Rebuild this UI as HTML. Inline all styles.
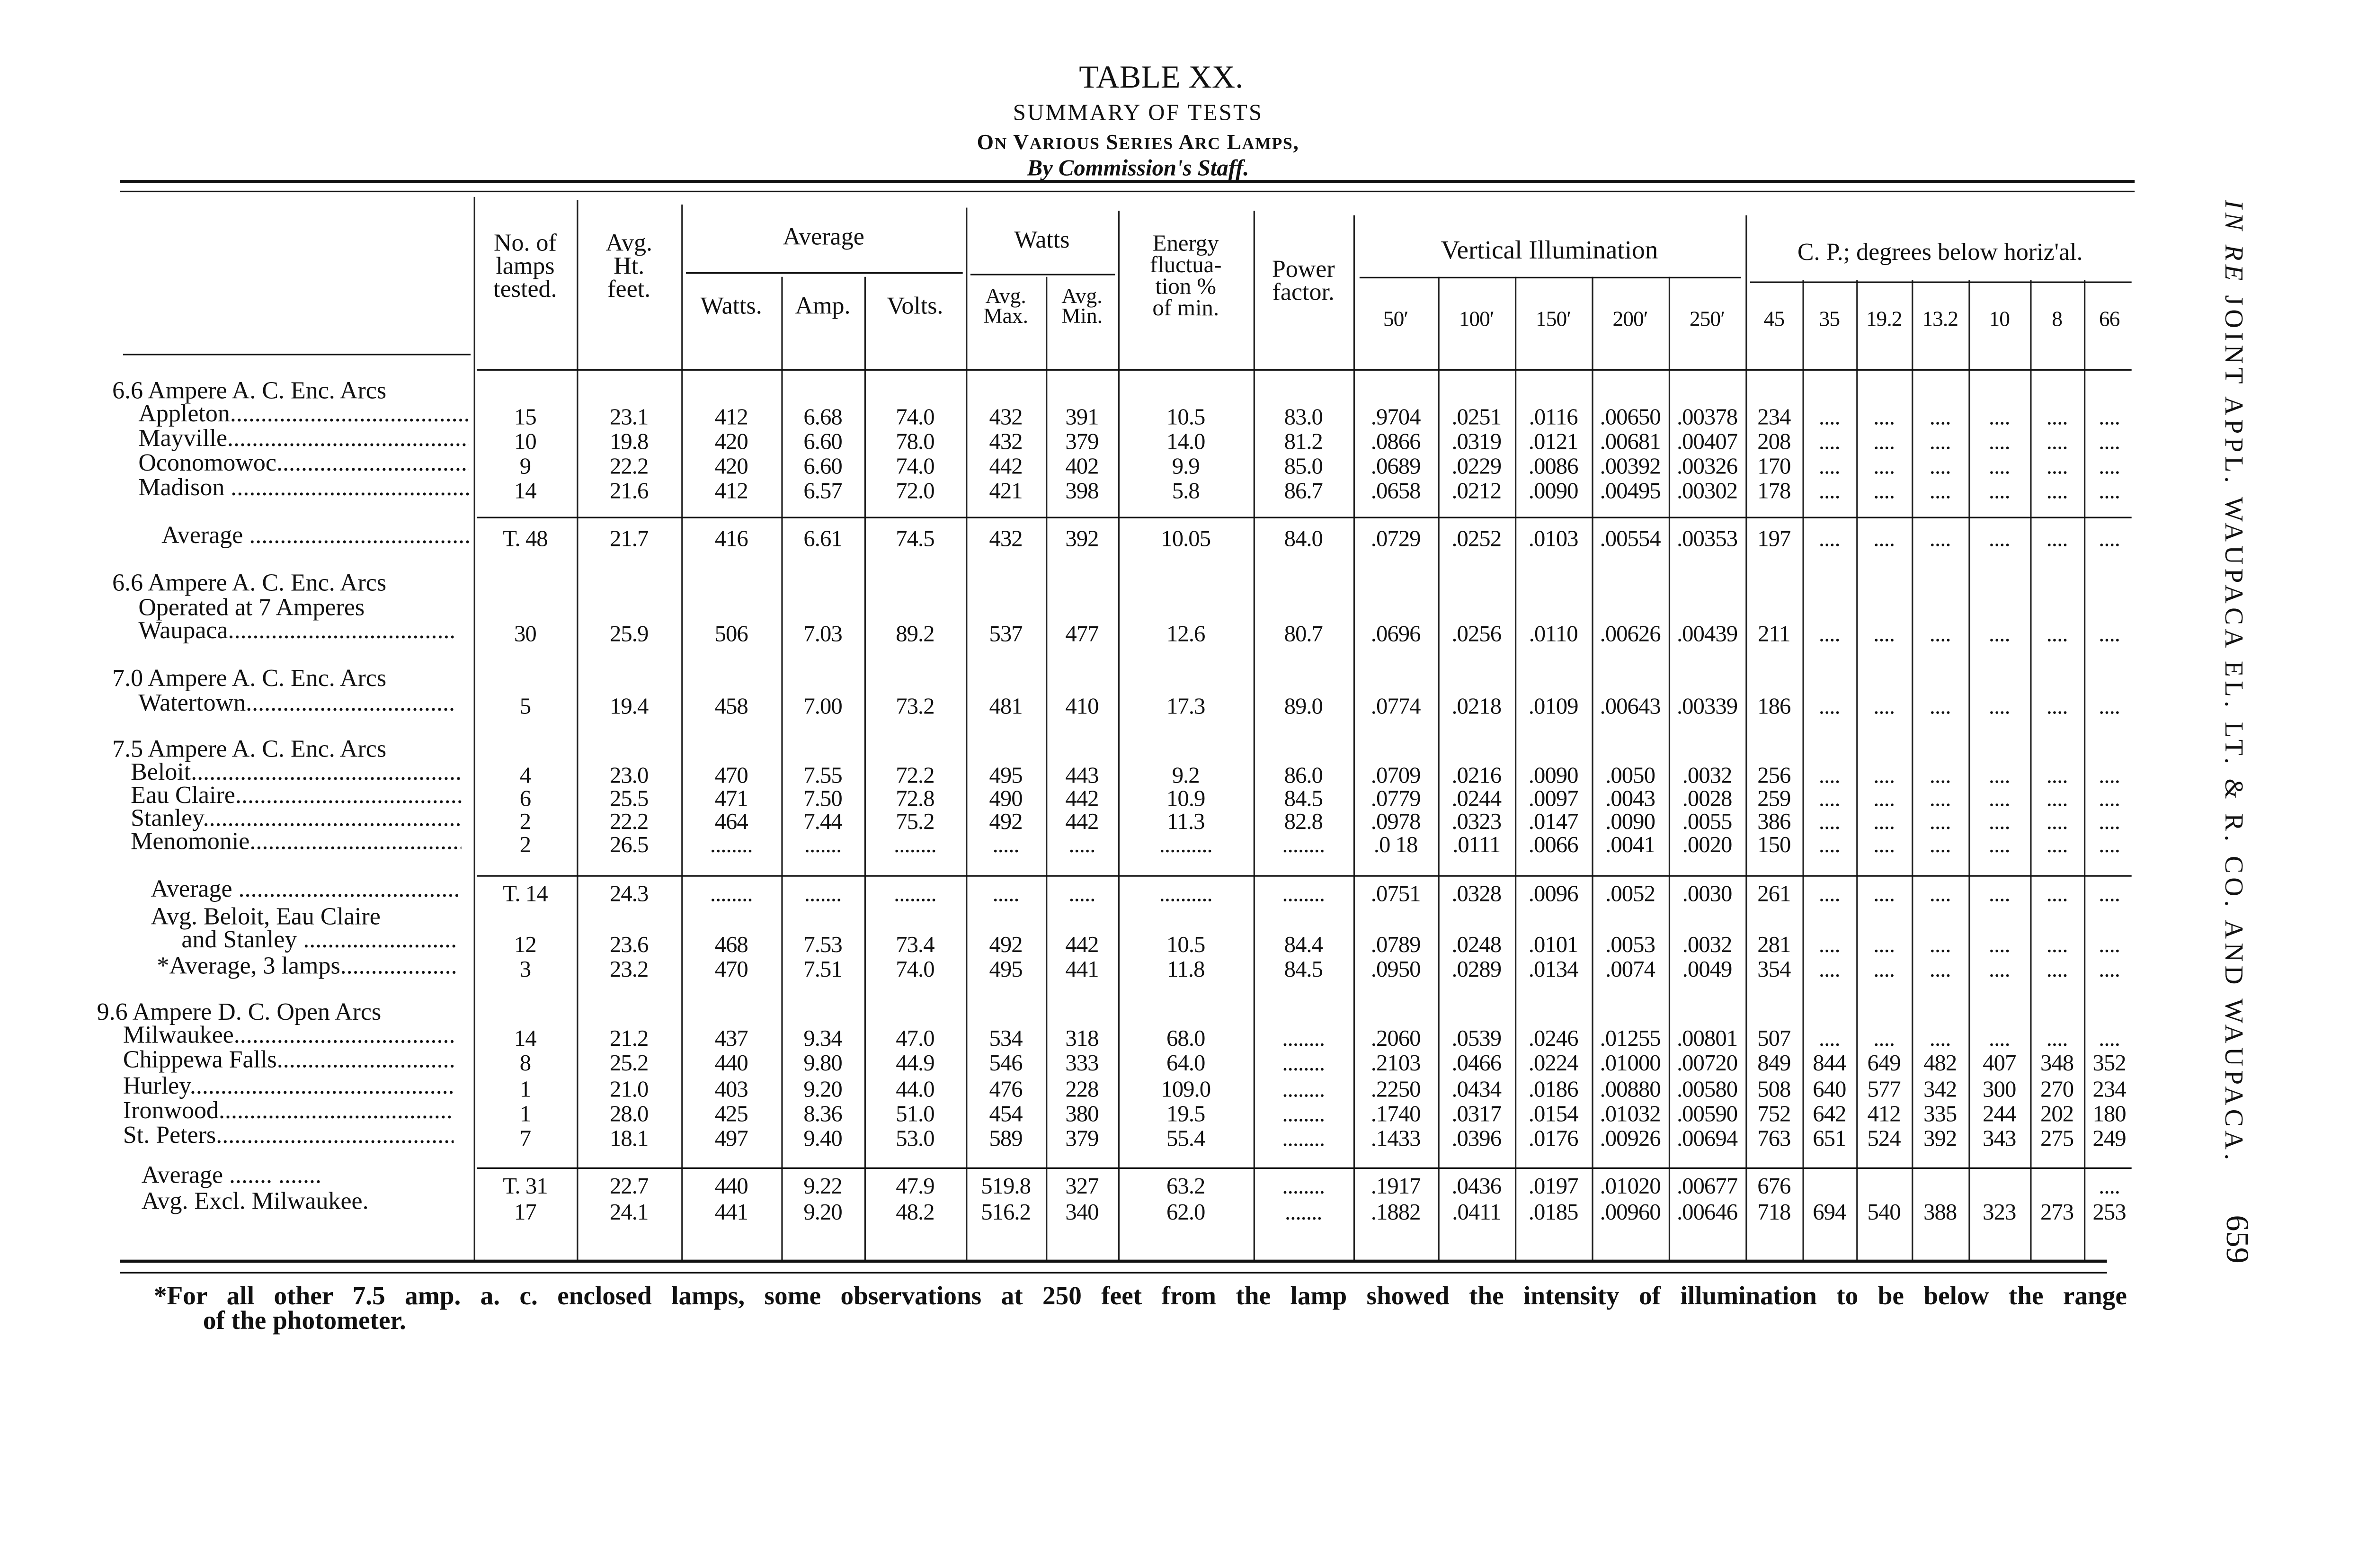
<!DOCTYPE html>
<html><head><meta charset="utf-8">
<style>
html,body{margin:0;padding:0;background:#fff;}
body{width:5094px;height:3312px;overflow:hidden;position:relative;}
#p{position:absolute;left:0;top:0;width:1568px;height:1019px;transform:scale(3.2487);transform-origin:0 0;font-family:"Liberation Serif",serif;color:#111;}
.t{position:absolute;white-space:nowrap;}
.c{position:absolute;text-align:center;white-space:nowrap;}
.h{position:absolute;background:#111;height:1px;}
.v{position:absolute;background:#222;width:1px;}
.r{position:absolute;left:0;width:1400px;height:16px;font-size:15px;line-height:16px;}
.r span{position:absolute;top:0;text-align:center;white-space:nowrap;letter-spacing:-0.3px;}
.r span:nth-child(1){left:308px;width:67px}
.r span:nth-child(2){left:375px;width:68px}
.r span:nth-child(3){left:443px;width:65px}
.r span:nth-child(4){left:508px;width:54px}
.r span:nth-child(5){left:562px;width:66px}
.r span:nth-child(6){left:628px;width:52px}
.r span:nth-child(7){left:680px;width:47px}
.r span:nth-child(8){left:727px;width:88px}
.r span:nth-child(9){left:815px;width:65px}
.r span:nth-child(10){left:880px;width:55px}
.r span:nth-child(11){left:935px;width:50px}
.r span:nth-child(12){left:985px;width:50px}
.r span:nth-child(13){left:1035px;width:50px}
.r span:nth-child(14){left:1085px;width:50px}
.r span:nth-child(15){left:1135px;width:37px}
.r span:nth-child(16){left:1172px;width:35px}
.r span:nth-child(17){left:1207px;width:36px}
.r span:nth-child(18){left:1243px;width:37px}
.r span:nth-child(19){left:1280px;width:40px}
.r span:nth-child(20){left:1320px;width:35px}
.r span:nth-child(21){left:1355px;width:33px}
.l{position:absolute;white-space:nowrap;overflow:hidden;font-size:16px;line-height:16px;}
.hd{font-size:16px;line-height:15px;}
</style></head><body><div id="p">

<div class="c" style="left:600px;width:310px;top:38px;font-size:21px;">TABLE XX.</div>
<div class="c" style="left:600px;width:280px;top:66px;font-size:15px;letter-spacing:1px;">SUMMARY OF TESTS</div>
<div class="c" style="left:580px;width:320px;top:86px;font-size:14px;font-weight:bold;letter-spacing:0.5px;">O<span style="font-size:11px">N</span> V<span style="font-size:11px">ARIOUS</span> S<span style="font-size:11px">ERIES</span> A<span style="font-size:11px">RC</span> L<span style="font-size:11px">AMPS</span>,</div>
<div class="c" style="left:580px;width:320px;top:102px;font-size:15px;font-style:italic;font-weight:bold;">By Commission's Staff.</div>

<div class="h" style="left:78px;width:1310px;top:117px;height:2px"></div>
<div class="h" style="left:78px;width:1310px;top:124px;"></div>

<div class="v" style="left:308px;top:128px;height:692px"></div>
<div class="v" style="left:375px;top:130px;height:690px"></div>
<div class="v" style="left:443px;top:133px;height:687px"></div>
<div class="v" style="left:628px;top:135px;height:685px"></div>
<div class="v" style="left:727px;top:137px;height:683px"></div>
<div class="v" style="left:815px;top:137px;height:683px"></div>
<div class="v" style="left:880px;top:140px;height:680px"></div>
<div class="v" style="left:1135px;top:140px;height:680px"></div>
<div class="v" style="left:508px;top:180px;height:640px"></div>
<div class="v" style="left:562px;top:180px;height:640px"></div>
<div class="v" style="left:680px;top:180px;height:640px"></div>
<div class="v" style="left:935px;top:180px;height:640px"></div>
<div class="v" style="left:985px;top:180px;height:640px"></div>
<div class="v" style="left:1035px;top:180px;height:640px"></div>
<div class="v" style="left:1085px;top:180px;height:640px"></div>
<div class="v" style="left:1172px;top:182px;height:638px"></div>
<div class="v" style="left:1207px;top:182px;height:638px"></div>
<div class="v" style="left:1243px;top:182px;height:638px"></div>
<div class="v" style="left:1280px;top:182px;height:638px"></div>
<div class="v" style="left:1320px;top:182px;height:638px"></div>
<div class="v" style="left:1355px;top:182px;height:638px"></div>

<div class="h" style="left:446px;width:180px;top:177px"></div>
<div class="h" style="left:631px;width:94px;top:178px"></div>
<div class="h" style="left:884px;width:248px;top:180px"></div>
<div class="h" style="left:1138px;width:248px;top:183px"></div>
<div class="h" style="left:80px;width:226px;top:230px"></div>
<div class="h" style="left:310px;width:1076px;top:240px"></div>

<div class="c hd" style="left:308px;width:67px;top:151px">No. of<br>lamps<br>tested.</div>
<div class="c hd" style="left:375px;width:68px;top:151px">Avg.<br>Ht.<br>feet.</div>
<div class="c" style="left:443px;width:185px;top:146px;font-size:16px">Average</div>
<div class="c" style="left:628px;width:99px;top:148px;font-size:16px">Watts</div>
<div class="c hd" style="left:443px;width:65px;top:192px">Watts.</div>
<div class="c hd" style="left:508px;width:54px;top:192px">Amp.</div>
<div class="c hd" style="left:562px;width:66px;top:192px">Volts.</div>
<div class="c hd" style="left:628px;width:52px;top:187px;font-size:14px;line-height:13px">Avg.<br>Max.</div>
<div class="c hd" style="left:680px;width:47px;top:187px;font-size:14px;line-height:13px">Avg.<br>Min.</div>
<div class="c hd" style="left:727px;width:88px;top:152px;font-size:15px;line-height:14px">Energy<br>fluctua-<br>tion %<br>of min.</div>
<div class="c hd" style="left:815px;width:65px;top:168px">Power<br>factor.</div>
<div class="c" style="left:880px;width:255px;top:153px;font-size:17px">Vertical Illumination</div>
<div class="c" style="left:1135px;width:253px;top:156px;font-size:16px">C. P.; degrees below horiz'al.</div>
<div class="r" style="top:201px;font-size:14px"><span></span><span></span><span></span><span></span><span></span><span></span><span></span><span></span><span></span><span>50′</span><span>100′</span><span>150′</span><span>200′</span><span>250′</span><span>45</span><span>35</span><span>19.2</span><span>13.2</span><span>10</span><span>8</span><span>66</span></div>

<div class="l" style="left:73px;top:247px">6.6 Ampere A. C. Enc. Arcs</div>
<div class="l" style="left:90px;top:262px;width:215px">Appleton.............................................</div>
<div class="l" style="left:90px;top:278px;width:215px">Mayville.............................................</div>
<div class="l" style="left:90px;top:294px;width:215px">Oconomowoc.............................................</div>
<div class="l" style="left:90px;top:310px;width:215px">Madison .............................................</div>
<div class="l" style="left:105px;top:341px;width:200px">Average .............................................</div>
<div class="l" style="left:73px;top:372px">6.6 Ampere A. C. Enc. Arcs</div>
<div class="l" style="left:90px;top:388px">Operated at 7 Amperes</div>
<div class="l" style="left:90px;top:403px;width:205px">Waupaca.............................................</div>
<div class="l" style="left:73px;top:434px">7.0 Ampere A. C. Enc. Arcs</div>
<div class="l" style="left:90px;top:450px;width:205px">Watertown.............................................</div>
<div class="l" style="left:73px;top:480px">7.5 Ampere A. C. Enc. Arcs</div>
<div class="l" style="left:85px;top:495px;width:215px">Beloit.............................................</div>
<div class="l" style="left:85px;top:510px;width:215px">Eau Claire.............................................</div>
<div class="l" style="left:85px;top:525px;width:215px">Stanley.............................................</div>
<div class="l" style="left:85px;top:540px;width:215px">Menomonie.............................................</div>
<div class="l" style="left:98px;top:571px;width:200px">Average .............................................</div>
<div class="l" style="left:98px;top:589px">Avg. Beloit, Eau Claire</div>
<div class="l" style="left:118px;top:604px;width:180px">and Stanley .............................................</div>
<div class="l" style="left:102px;top:621px;width:195px">*Average, 3 lamps.............................................</div>
<div class="l" style="left:63px;top:651px">9.6 Ampere D. C. Open Arcs</div>
<div class="l" style="left:80px;top:666px;width:215px">Milwaukee.............................................</div>
<div class="l" style="left:80px;top:682px;width:215px">Chippewa Falls.............................................</div>
<div class="l" style="left:80px;top:699px;width:215px">Hurley.............................................</div>
<div class="l" style="left:80px;top:715px;width:215px">Ironwood.............................................</div>
<div class="l" style="left:80px;top:731px;width:215px">St. Peters.............................................</div>
<div class="l" style="left:92px;top:757px;width:200px">Average ....... .......</div>
<div class="l" style="left:92px;top:774px;width:200px">Avg. Excl. Milwaukee.</div>

<div class="r" style="top:264px"><span>15</span><span>23.1</span><span>412</span><span>6.68</span><span>74.0</span><span>432</span><span>391</span><span>10.5</span><span>83.0</span><span>.9704</span><span>.0251</span><span>.0116</span><span>.00650</span><span>.00378</span><span>234</span><span>....</span><span>....</span><span>....</span><span>....</span><span>....</span><span>....</span></div>
<div class="r" style="top:280px"><span>10</span><span>19.8</span><span>420</span><span>6.60</span><span>78.0</span><span>432</span><span>379</span><span>14.0</span><span>81.2</span><span>.0866</span><span>.0319</span><span>.0121</span><span>.00681</span><span>.00407</span><span>208</span><span>....</span><span>....</span><span>....</span><span>....</span><span>....</span><span>....</span></div>
<div class="r" style="top:296px"><span>9</span><span>22.2</span><span>420</span><span>6.60</span><span>74.0</span><span>442</span><span>402</span><span>9.9</span><span>85.0</span><span>.0689</span><span>.0229</span><span>.0086</span><span>.00392</span><span>.00326</span><span>170</span><span>....</span><span>....</span><span>....</span><span>....</span><span>....</span><span>....</span></div>
<div class="r" style="top:312px"><span>14</span><span>21.6</span><span>412</span><span>6.57</span><span>72.0</span><span>421</span><span>398</span><span>5.8</span><span>86.7</span><span>.0658</span><span>.0212</span><span>.0090</span><span>.00495</span><span>.00302</span><span>178</span><span>....</span><span>....</span><span>....</span><span>....</span><span>....</span><span>....</span></div>
<div class="h" style="left:310px;width:1076px;top:336px"></div>
<div class="r" style="top:343px"><span>T. 48</span><span>21.7</span><span>416</span><span>6.61</span><span>74.5</span><span>432</span><span>392</span><span>10.05</span><span>84.0</span><span>.0729</span><span>.0252</span><span>.0103</span><span>.00554</span><span>.00353</span><span>197</span><span>....</span><span>....</span><span>....</span><span>....</span><span>....</span><span>....</span></div>
<div class="r" style="top:405px"><span>30</span><span>25.9</span><span>506</span><span>7.03</span><span>89.2</span><span>537</span><span>477</span><span>12.6</span><span>80.7</span><span>.0696</span><span>.0256</span><span>.0110</span><span>.00626</span><span>.00439</span><span>211</span><span>....</span><span>....</span><span>....</span><span>....</span><span>....</span><span>....</span></div>
<div class="r" style="top:452px"><span>5</span><span>19.4</span><span>458</span><span>7.00</span><span>73.2</span><span>481</span><span>410</span><span>17.3</span><span>89.0</span><span>.0774</span><span>.0218</span><span>.0109</span><span>.00643</span><span>.00339</span><span>186</span><span>....</span><span>....</span><span>....</span><span>....</span><span>....</span><span>....</span></div>
<div class="r" style="top:497px"><span>4</span><span>23.0</span><span>470</span><span>7.55</span><span>72.2</span><span>495</span><span>443</span><span>9.2</span><span>86.0</span><span>.0709</span><span>.0216</span><span>.0090</span><span>.0050</span><span>.0032</span><span>256</span><span>....</span><span>....</span><span>....</span><span>....</span><span>....</span><span>....</span></div>
<div class="r" style="top:512px"><span>6</span><span>25.5</span><span>471</span><span>7.50</span><span>72.8</span><span>490</span><span>442</span><span>10.9</span><span>84.5</span><span>.0779</span><span>.0244</span><span>.0097</span><span>.0043</span><span>.0028</span><span>259</span><span>....</span><span>....</span><span>....</span><span>....</span><span>....</span><span>....</span></div>
<div class="r" style="top:527px"><span>2</span><span>22.2</span><span>464</span><span>7.44</span><span>75.2</span><span>492</span><span>442</span><span>11.3</span><span>82.8</span><span>.0978</span><span>.0323</span><span>.0147</span><span>.0090</span><span>.0055</span><span>386</span><span>....</span><span>....</span><span>....</span><span>....</span><span>....</span><span>....</span></div>
<div class="r" style="top:542px"><span>2</span><span>26.5</span><span>........</span><span>.......</span><span>........</span><span>.....</span><span>.....</span><span>..........</span><span>........</span><span>.0 18</span><span>.0111</span><span>.0066</span><span>.0041</span><span>.0020</span><span>150</span><span>....</span><span>....</span><span>....</span><span>....</span><span>....</span><span>....</span></div>
<div class="h" style="left:310px;width:1076px;top:569px"></div>
<div class="r" style="top:574px"><span>T. 14</span><span>24.3</span><span>........</span><span>.......</span><span>........</span><span>.....</span><span>.....</span><span>..........</span><span>........</span><span>.0751</span><span>.0328</span><span>.0096</span><span>.0052</span><span>.0030</span><span>261</span><span>....</span><span>....</span><span>....</span><span>....</span><span>....</span><span>....</span></div>
<div class="r" style="top:607px"><span>12</span><span>23.6</span><span>468</span><span>7.53</span><span>73.4</span><span>492</span><span>442</span><span>10.5</span><span>84.4</span><span>.0789</span><span>.0248</span><span>.0101</span><span>.0053</span><span>.0032</span><span>281</span><span>....</span><span>....</span><span>....</span><span>....</span><span>....</span><span>....</span></div>
<div class="r" style="top:623px"><span>3</span><span>23.2</span><span>470</span><span>7.51</span><span>74.0</span><span>495</span><span>441</span><span>11.8</span><span>84.5</span><span>.0950</span><span>.0289</span><span>.0134</span><span>.0074</span><span>.0049</span><span>354</span><span>....</span><span>....</span><span>....</span><span>....</span><span>....</span><span>....</span></div>
<div class="r" style="top:668px"><span>14</span><span>21.2</span><span>437</span><span>9.34</span><span>47.0</span><span>534</span><span>318</span><span>68.0</span><span>........</span><span>.2060</span><span>.0539</span><span>.0246</span><span>.01255</span><span>.00801</span><span>507</span><span>....</span><span>....</span><span>....</span><span>....</span><span>....</span><span>....</span></div>
<div class="r" style="top:684px"><span>8</span><span>25.2</span><span>440</span><span>9.80</span><span>44.9</span><span>546</span><span>333</span><span>64.0</span><span>........</span><span>.2103</span><span>.0466</span><span>.0224</span><span>.01000</span><span>.00720</span><span>849</span><span>844</span><span>649</span><span>482</span><span>407</span><span>348</span><span>352</span></div>
<div class="r" style="top:701px"><span>1</span><span>21.0</span><span>403</span><span>9.20</span><span>44.0</span><span>476</span><span>228</span><span>109.0</span><span>........</span><span>.2250</span><span>.0434</span><span>.0186</span><span>.00880</span><span>.00580</span><span>508</span><span>640</span><span>577</span><span>342</span><span>300</span><span>270</span><span>234</span></div>
<div class="r" style="top:717px"><span>1</span><span>28.0</span><span>425</span><span>8.36</span><span>51.0</span><span>454</span><span>380</span><span>19.5</span><span>........</span><span>.1740</span><span>.0317</span><span>.0154</span><span>.01032</span><span>.00590</span><span>752</span><span>642</span><span>412</span><span>335</span><span>244</span><span>202</span><span>180</span></div>
<div class="r" style="top:733px"><span>7</span><span>18.1</span><span>497</span><span>9.40</span><span>53.0</span><span>589</span><span>379</span><span>55.4</span><span>........</span><span>.1433</span><span>.0396</span><span>.0176</span><span>.00926</span><span>.00694</span><span>763</span><span>651</span><span>524</span><span>392</span><span>343</span><span>275</span><span>249</span></div>
<div class="h" style="left:310px;width:1076px;top:759px"></div>
<div class="r" style="top:764px"><span>T. 31</span><span>22.7</span><span>440</span><span>9.22</span><span>47.9</span><span>519.8</span><span>327</span><span>63.2</span><span>........</span><span>.1917</span><span>.0436</span><span>.0197</span><span>.01020</span><span>.00677</span><span>676</span><span></span><span></span><span></span><span></span><span></span><span>....</span></div>
<div class="r" style="top:781px"><span>17</span><span>24.1</span><span>441</span><span>9.20</span><span>48.2</span><span>516.2</span><span>340</span><span>62.0</span><span>.......</span><span>.1882</span><span>.0411</span><span>.0185</span><span>.00960</span><span>.00646</span><span>718</span><span>694</span><span>540</span><span>388</span><span>323</span><span>273</span><span>253</span></div>

<div class="h" style="left:78px;width:1292px;top:819px;height:2px"></div>
<div class="h" style="left:78px;width:1292px;top:827px;"></div>

<div class="t" style="left:100px;top:833px;font-size:17px;font-weight:bold;word-spacing:8.5px;">*For all other 7.5 amp. a. c. enclosed lamps, some observations at 250 feet from the lamp showed the intensity of illumination to be below the range</div>
<div class="t" style="left:132px;top:849px;font-size:17px;font-weight:bold;">of the photometer.</div>

<div class="t" style="left:1442px;top:130px;font-size:17px;writing-mode:vertical-rl;letter-spacing:2.6px;"><i>IN RE</i> JOINT APPL. WAUPACA EL. LT. &amp; R. CO. AND WAUPACA.</div>
<div class="t" style="left:1442px;top:790px;font-size:21px;writing-mode:vertical-rl;">659</div>

</div></body></html>
